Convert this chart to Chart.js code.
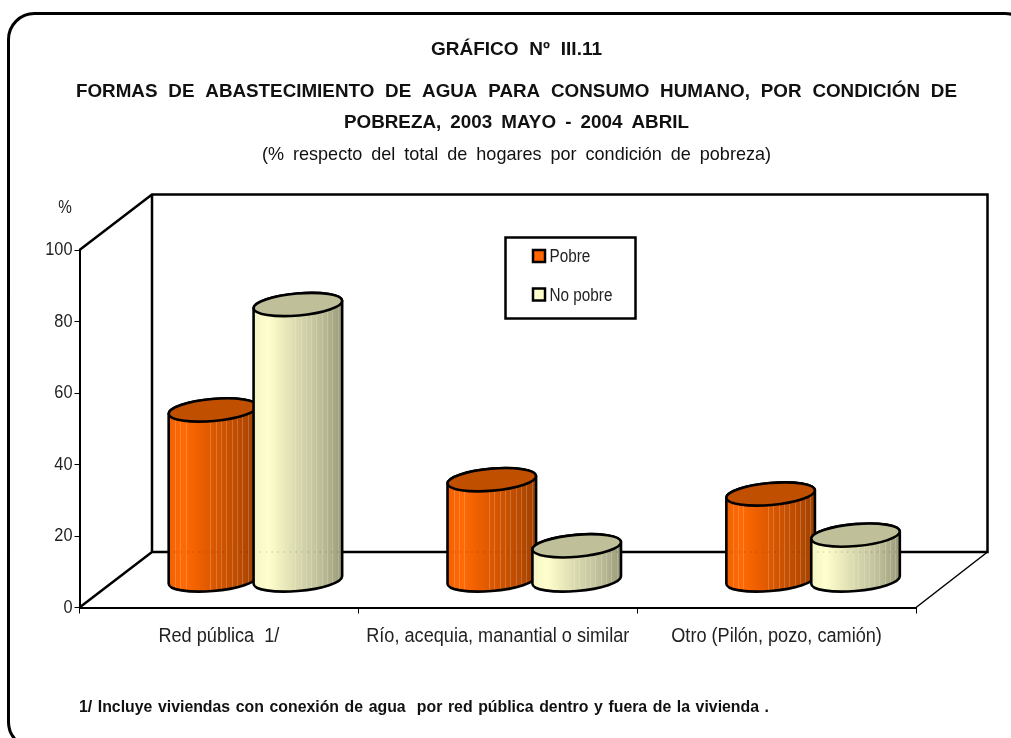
<!DOCTYPE html>
<html><head><meta charset="utf-8">
<style>html,body{margin:0;padding:0;background:#fff;overflow:hidden}canvas{display:block}</style>
<script src="https://cdn.jsdelivr.net/npm/chart.js@4/dist/chart.umd.min.js"></script>
</head><body><canvas id="c" width="1011" height="738"></canvas>
<script>
const categories = ['Red pública  1/', 'Río, acequia, manantial o similar', 'Otro (Pilón, pozo, camión)'];
const pobre = [47.7, 28.2, 24.2];
const noPobre = [77.2, 9.7, 12.7];
const yTicks = [0, 20, 40, 60, 80, 100];
const seriesNames = ['Pobre', 'No pobre'];
const titleLines = [
  ['GRÁFICO Nº III.11', 431, 602, 50, 'bold', 19, 1],
  ['FORMAS DE ABASTECIMIENTO DE AGUA PARA CONSUMO HUMANO, POR CONDICIÓN DE', 76, 957, 92, 'bold', 19, .99],
  ['POBREZA, 2003 MAYO - 2004 ABRIL', 344, 689, 123, 'bold', 19, .99],
  ['(% respecto del total de hogares por condición de pobreza)', 262, 771, 155, 'normal', 19, .95]
];
const footnote = '1/ Incluye viviendas con conexión de agua  por red pública dentro y fuera de la vivienda .';

const FONT = '"Liberation Sans",sans-serif';
const depthX = 72.5, depthY = -55.5, barDX = 36.5, barDY = -27;
const stripes = [.07,.13,.19,.47,.53,.59,.65,.71,.77,.83,.89,.95];
const looks = {
  '#FF6600': {top:'#C04F00', stops:['#f26000','#ff6a05','#ee6000','#dc5800','#c85000','#b84a00','#9c4000']},
  '#FFFFCC': {top:'#BFBF99', stops:['#f4f4c4','#ffffcc','#ecebbd','#d8d8ad','#c8c8a2','#b4b48f','#9a9a7a']}
};

class Cylinder extends Chart.BarElement {
  draw(ctx) {
    const look = looks[this.options.backgroundColor];
    const rx = this.width / 2 * 1.047, ry = 11, th = -5 * Math.PI / 180;
    const cx = this.x + barDX, ty = this.y + barDY, by = this.base + barDY;
    const t0 = Math.atan2(-ry * Math.sin(th), rx * Math.cos(th));
    const ex = rx * Math.cos(t0) * Math.cos(th) - ry * Math.sin(t0) * Math.sin(th);
    const ey = rx * Math.cos(t0) * Math.sin(th) + ry * Math.sin(t0) * Math.cos(th);
    ctx.save();
    const body = () => {
      ctx.beginPath();
      ctx.moveTo(cx - ex, ty - ey);
      ctx.lineTo(cx - ex, by - ey);
      ctx.ellipse(cx, by, rx, ry, th, t0 + Math.PI, t0, true);
      ctx.lineTo(cx + ex, ty + ey);
      ctx.ellipse(cx, ty, rx, ry, th, t0, t0 - Math.PI, true);
      ctx.closePath();
    };
    const g = ctx.createLinearGradient(cx - ex, 0, cx + ex, 0);
    look.stops.forEach((c, i) => g.addColorStop(i / (look.stops.length - 1), c));
    ctx.save();
    body(); ctx.fillStyle = g; ctx.fill(); ctx.clip();
    ctx.strokeStyle = 'rgba(255,255,255,.2)'; ctx.lineWidth = 1;
    stripes.forEach(f => {
      const x = Math.round(cx - ex + f * 2 * ex) + .5;
      ctx.beginPath(); ctx.moveTo(x, ty - 20); ctx.lineTo(x, by + 20); ctx.stroke();
    });
    ctx.strokeStyle = 'rgba(0,0,0,.3)'; ctx.setLineDash([1, 5]);
    ctx.beginPath(); ctx.moveTo(cx - ex, this.$wallY); ctx.lineTo(cx + ex, this.$wallY); ctx.stroke();
    ctx.restore();
    ctx.strokeStyle = '#000'; ctx.lineWidth = 2.6; ctx.lineJoin = 'round';
    body(); ctx.stroke();
    ctx.beginPath(); ctx.ellipse(cx, ty, rx, ry, th, 0, Math.PI * 2);
    ctx.fillStyle = look.top; ctx.fill(); ctx.stroke();
    ctx.restore();
  }
}
Cylinder.id = 'cylinder';
Cylinder.defaults = Chart.BarElement.defaults;
Cylinder.defaultRoutes = Chart.BarElement.defaultRoutes;
class CylinderController extends Chart.BarController {}
CylinderController.id = 'cylinderBar';
CylinderController.defaults = Object.assign({}, Chart.BarController.defaults, {dataElementType: 'cylinder'});
CylinderController.overrides = Chart.BarController.overrides;
Chart.register(Cylinder, CylinderController);

// Liberation Sans squeezed horizontally, standing in for the reference's narrow face
function justified(ctx, text, x0, x1, y, font, k) {
  ctx.save();
  ctx.font = font; ctx.textAlign = 'left'; ctx.textBaseline = 'middle';
  ctx.wordSpacing = '0px';
  const n = text.split(' ').length - 1;
  const w = ctx.measureText(text).width;
  ctx.wordSpacing = (n ? ((x1 - x0) / k - w) / n : 0) + 'px';
  ctx.translate(x0, y); ctx.scale(k, 1);
  ctx.fillText(text, 0, 0);
  ctx.restore();
}
function squeezed(ctx, text, x, y, font, k, align) {
  ctx.save();
  ctx.font = font; ctx.textAlign = align; ctx.textBaseline = 'middle';
  ctx.translate(x, y); ctx.scale(k, 1);
  ctx.fillText(text, 0, 0);
  ctx.restore();
}

const page3d = {
  id: 'page3d',
  beforeDatasetsDraw(chart) {
    const {ctx, chartArea: a} = chart;
    const x0 = a.left, x1 = a.right, y0 = a.bottom, y1 = a.top;
    const bx0 = x0 + depthX, bx1 = x1 + depthX - 1, by0 = y0 + depthY, by1 = y1 + depthY;
    ctx.save();
    ctx.strokeStyle = '#000'; ctx.lineWidth = 2.5; ctx.lineJoin = 'miter';
    ctx.beginPath();
    ctx.moveTo(x0, y1); ctx.lineTo(bx0, by1); ctx.lineTo(bx1, by1); ctx.lineTo(bx1, by0);
    ctx.lineTo(bx0, by0); ctx.lineTo(x0, y0);
    ctx.moveTo(bx0, by1); ctx.lineTo(bx0, by0);
    ctx.stroke();
    ctx.lineWidth = 1.5;
    ctx.beginPath(); ctx.moveTo(bx1, by0); ctx.lineTo(x1, y0); ctx.stroke();
    ctx.restore();
    chart.data.datasets.forEach((d, i) => {
      const meta = chart.getDatasetMeta(i);
      meta.data.forEach(el => { el.$wallY = by0; });
      meta.controller.draw();
    });
    return false;
  },
  afterDraw(chart) {
    const {ctx, scales} = chart;
    ctx.save();
    ctx.fillStyle = '#111';
    titleLines.forEach(t => justified(ctx, t[0], t[1], t[2], t[3], t[4] + ' ' + t[5] + 'px ' + FONT, t[6]));
    justified(ctx, footnote, 79, 769, 707, 'bold 16.5px ' + FONT, .96);
    ctx.fillStyle = '#222';
    scales.y.ticks.forEach(t => squeezed(ctx, String(t.value), 72.5, scales.y.getPixelForValue(t.value), '19px ' + FONT, .86, 'right'));
    categories.forEach((c, i) => squeezed(ctx, c, scales.x.getPixelForValue(i), 637, '19.5px ' + FONT, .93, 'center'));
    squeezed(ctx, '%', 65, 208, '18px ' + FONT, .85, 'center');
    // legend
    ctx.fillStyle = '#fff'; ctx.strokeStyle = '#000'; ctx.lineWidth = 2.5;
    ctx.fillRect(505.5, 237.5, 130, 81); ctx.strokeRect(505.5, 237.5, 130, 81);
    chart.data.datasets.forEach((d, i) => {
      const y = 256.5 + i * 38.5;
      ctx.fillStyle = d.backgroundColor; ctx.lineWidth = 2.5;
      ctx.fillRect(533, y - 6.5, 12, 12); ctx.strokeRect(533, y - 6.5, 12, 12);
      ctx.fillStyle = '#222';
      squeezed(ctx, d.label, 549.5, y + 1, '18px ' + FONT, .85, 'left');
    });
    // page frame
    ctx.strokeStyle = '#000'; ctx.lineWidth = 3;
    ctx.beginPath(); ctx.roundRect(8.5, 13.5, 1022.5, 734.5, 26); ctx.stroke();
    ctx.restore();
  }
};

new Chart(document.getElementById('c'), {
  type: 'cylinderBar',
  data: {
    labels: categories,
    datasets: [
      {label: seriesNames[0], data: pobre, backgroundColor: '#FF6600', categoryPercentage: .609, barPercentage: 1},
      {label: seriesNames[1], data: noPobre, backgroundColor: '#FFFFCC', categoryPercentage: .609, barPercentage: 1}
    ]
  },
  plugins: [page3d],
  options: {
    responsive: false, animation: false, events: [],
    layout: {autoPadding: false, padding: {left: 0, right: 95, top: 250, bottom: 0}},
    plugins: {legend: {display: false}, title: {display: false}, tooltip: {enabled: false}},
    scales: {
      x: {
        type: 'category', offset: true,
        afterFit(s) { s.height = 130.5; },
        grid: {display: true, offset: true, drawOnChartArea: false, drawTicks: true, tickLength: 6, color: '#000', lineWidth: 1},
        border: {color: '#000', width: 2},
        ticks: {display: false, autoSkip: false, maxRotation: 0}
      },
      y: {
        type: 'linear', min: 0, max: 100,
        afterFit(s) { s.width = 79.5; },
        afterBuildTicks(s) { s.ticks = yTicks.map(value => ({value})); },
        grid: {display: true, drawOnChartArea: false, drawTicks: true, tickLength: 5, color: '#000', lineWidth: 1},
        border: {color: '#000', width: 2},
        ticks: {display: false}
      }
    }
  }
});
</script></body></html>
